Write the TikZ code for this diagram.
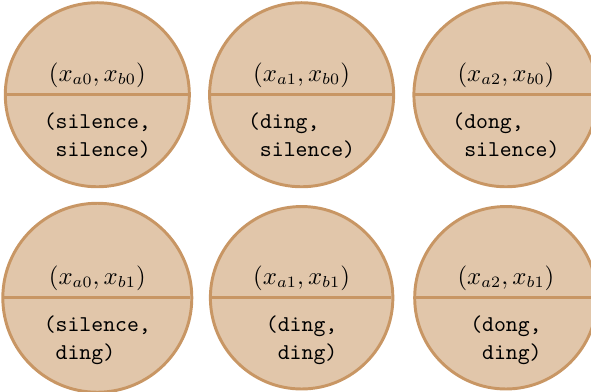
\documentclass[tikz,border=0pt]{standalone}
\usetikzlibrary{shapes.multipart}
\definecolor{tanfill}{RGB}{225,198,170}
\definecolor{tanline}{RGB}{200,150,100}
\tikzset{pairstate/.style={circle split,draw=tanline,fill=tanfill,line width=1.3pt,
    minimum size=2.82cm,inner ysep=2.6pt,font=\ttfamily,align=left}}
\newcommand{\pairmath}[1]{{\fontsize{10.7pt}{13pt}\selectfont$#1$}}
\newcommand{\pairtext}[2]{\rule{0pt}{11.8pt}#1\\\ #2}
\begin{document}
\begin{tikzpicture}
  \useasboundingbox (0,0) rectangle (9.17,6.08);
  \node[pairstate] (a0b0) at (1.51,4.61) {\pairmath{(x_{a0},x_{b0})} \nodepart{lower} \pairtext{(silence,}{silence)}};
  \node[pairstate] (a1b0) at (4.68,4.61) {\pairmath{(x_{a1},x_{b0})} \nodepart{lower} \pairtext{(ding,}{silence)}};
  \node[pairstate] (a2b0) at (7.85,4.61) {\pairmath{(x_{a2},x_{b0})} \nodepart{lower} \pairtext{(dong,}{silence)}};
  \node[pairstate] (a0b1) at (1.51,1.46) {\pairmath{(x_{a0},x_{b1})} \nodepart{lower} \pairtext{(silence,}{ding)}};
  \node[pairstate] (a1b1) at (4.68,1.46) {\pairmath{(x_{a1},x_{b1})} \nodepart{lower} \pairtext{(ding,}{ding)}};
  \node[pairstate] (a2b1) at (7.85,1.46) {\pairmath{(x_{a2},x_{b1})} \nodepart{lower} \pairtext{(dong,}{ding)}};
\end{tikzpicture}
\end{document}
